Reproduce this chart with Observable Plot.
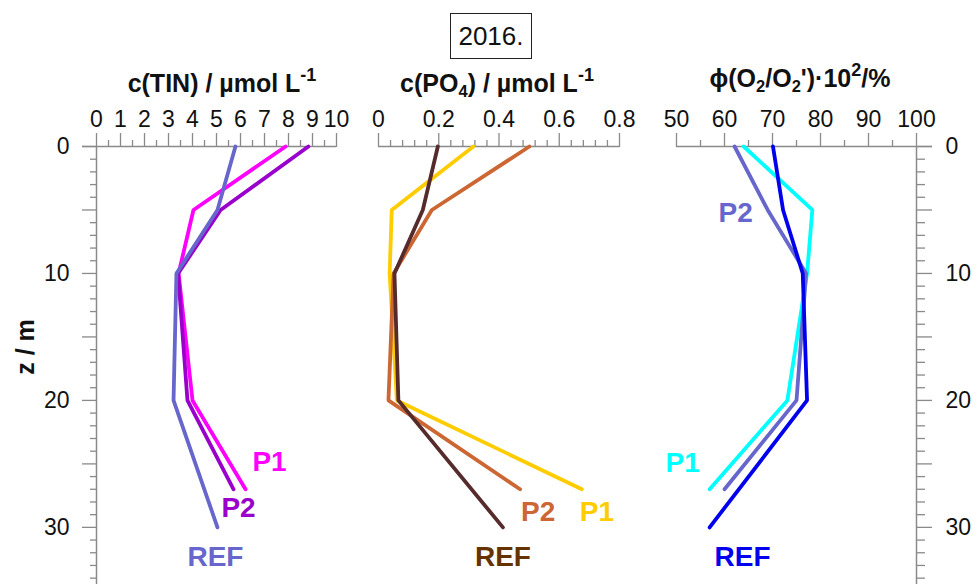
<!DOCTYPE html>
<html>
<head>
<meta charset="utf-8">
<script src="https://cdn.jsdelivr.net/npm/d3@7"></script>
<script src="https://cdn.jsdelivr.net/npm/@observablehq/plot@0.6"></script>
<style>
  html, body { margin: 0; padding: 0; background: #fff; overflow: hidden; }
  body { font-family: "Liberation Sans", Arial, sans-serif; }
  #wrap { position: relative; width: 977px; height: 584px; overflow: hidden; background: #fff; }
  #wrap svg { position: absolute; left: 0; top: 0; }
  .ttl { position: absolute; font-weight: bold; font-size: 25px; white-space: nowrap; line-height: 1; transform: translateX(-50%); color: #111; }
  .ttl sup { font-size: 0.72em; position: relative; top: -0.6em; vertical-align: baseline; }
  .ttl sub { font-size: 0.66em; position: relative; top: 0.3em; vertical-align: baseline; }
  #year { position: absolute; left: 450px; top: 13px; width: 80px; height: 44px; border: 1.5px solid #222; font-size: 26px; line-height: 44px; text-align: center; color: #111; }
  #zlab { position: absolute; left: 25px; top: 347px; transform: translate(-50%, -50%) rotate(-90deg); font-weight: bold; font-size: 25px; white-space: nowrap; color: #111; }
</style>
</head>
<body>
<div id="wrap">
  <div id="year">2016.</div>
  <div class="ttl" style="left:222px; top:71px;">c(TIN) / µmol L<sup>-1</sup></div>
  <div class="ttl" style="left:497px; top:71px;">c(PO<sub>4</sub>) / µmol L<sup>-1</sup></div>
  <div class="ttl" style="left:800px; top:66px;">ϕ(O<sub>2</sub>/O<sub>2</sub>')·10<sup>2</sup>/%</div>
  <div id="zlab">z / m</div>
</div>
<script>
// ---- data ----
const seriesNames = ["P1", "P2", "REF"];
const depthsP = [0, 5, 10, 20, 27];      // P1, P2 sampling depths (m)
const depthsREF = [0, 5, 10, 20, 30];    // REF sampling depths (m)

const tinP1  = [7.88, 4.04, 3.42, 4.00, 6.21];
const tinP2  = [8.83, 5.17, 3.40, 3.79, 5.71];
const tinREF = [5.79, 5.04, 3.33, 3.21, 5.04];

const po4P1  = [0.315, 0.044, 0.037, 0.061, 0.675];
const po4P2  = [0.501, 0.177, 0.050, 0.033, 0.470];
const po4REF = [0.197, 0.147, 0.053, 0.066, 0.413];

const o2P1  = [64.0, 78.3, 77.2, 73.1, 56.9];
const o2P2  = [62.1, 69.0, 77.0, 75.0, 60.0];
const o2REF = [70.1, 72.2, 76.3, 77.2, 56.9];

const tinTicks = [0, 1, 2, 3, 4, 5, 6, 7, 8, 9, 10];
const po4Ticks = [0, 0.2, 0.4, 0.6, 0.8];
const o2Ticks  = [50, 60, 70, 80, 90, 100];
const depthTicks = [0, 10, 20, 30];

// ---- helpers ----
const W = 977, H = 584;
const axisColor = "#8a8a8a";
const font = "'Liberation Sans', Arial, sans-serif";
const yScale = { domain: [0, 34.5], reverse: true };

function rows(vals, depths) { return vals.map((v, i) => ({ v, z: depths[i] })); }

function panel(cfg) {
  const marks = [];
  marks.push(Plot.ruleY([0], { stroke: axisColor, strokeWidth: 1.5, insetLeft: cfg.extLeft || 0, insetRight: cfg.extRight || 0 }));
  marks.push(Plot.axisX({ anchor: "top", ticks: cfg.minor, tickSize: 7, tickFormat: () => "", stroke: axisColor, strokeWidth: 1.3, label: null }));
  marks.push(Plot.axisX({ anchor: "top", ticks: cfg.major, tickSize: 14, tickPadding: 6, tickFormat: cfg.fmt, fontSize: 23, stroke: axisColor, strokeWidth: 1.3, fill: "#111", label: null }));
  if (cfg.yAnchor) {
    const minorDepths = d3.range(0, 35).filter(d => d % 5 !== 0);
    const midDepths = [5, 15, 25];
    marks.push(Plot.ruleX([cfg.yAt], { stroke: axisColor, strokeWidth: 1.5 }));
    marks.push(Plot.axisY({ anchor: cfg.yAnchor, ticks: minorDepths, tickSize: cfg.yMinor, tickFormat: () => "", stroke: axisColor, strokeWidth: 1.3, label: null }));
    marks.push(Plot.axisY({ anchor: cfg.yAnchor, ticks: midDepths, tickSize: cfg.yMajor, tickFormat: () => "", stroke: axisColor, strokeWidth: 1.3, label: null }));
    marks.push(Plot.axisY({ anchor: cfg.yAnchor, ticks: depthTicks, tickSize: cfg.yMajor, tickPadding: cfg.yPad, fontSize: 23, stroke: axisColor, strokeWidth: 1.3, fill: "#111", label: null }));
  } else {
    marks.push(Plot.axisY({ ticks: [], label: null }));
  }
  for (const s of cfg.series) {
    marks.push(Plot.line(s.data, { x: "v", y: "z", stroke: s.color, strokeWidth: 3.8, strokeLinejoin: "miter" }));
  }
  for (const s of cfg.series) {
    const anchor = s.data[s.labelAt];
    marks.push(Plot.text([anchor], { x: "v", y: "z", text: () => s.name, dx: s.dx, dy: s.dy, fill: s.labelColor || s.color, fontSize: 28, fontWeight: "bold", textAnchor: "middle", lineAnchor: "middle" }));
  }
  return Plot.plot({
    width: W, height: H,
    marginTop: 146, marginBottom: 0,
    marginLeft: cfg.ml, marginRight: cfg.mr,
    x: { domain: cfg.domain },
    y: yScale,
    style: { background: "transparent", overflow: "visible", fontFamily: font },
    marks
  });
}

const wrap = document.getElementById("wrap");

// Panel 1: TIN
wrap.appendChild(panel({
  domain: [0, 10], ml: 96, mr: W - 336,
  major: tinTicks, minor: d3.range(0.5, 10, 1), fmt: d => String(d),
  extLeft: -14,
  yAnchor: "left", yAt: 0, yMajor: 14, yMinor: 6, yPad: 13,
  series: [
    { name: "P1", data: rows(tinP1, depthsP), color: "#ff00ff", labelAt: 4, dx: 24, dy: -27 },
    { name: "P2", data: rows(tinP2, depthsP), color: "#9900cc", labelAt: 4, dx: 5, dy: 19 },
    { name: "REF", data: rows(tinREF, depthsREF), color: "#6666cc", labelAt: 4, dx: -2, dy: 30 }
  ]
}));

// Panel 2: PO4
wrap.appendChild(panel({
  domain: [0, 0.8], ml: 378, mr: W - 619,
  major: po4Ticks, minor: d3.range(0, 21).filter(i => i % 5 !== 0).map(i => i * 0.04),
  fmt: d => d === 0 ? "0" : d.toFixed(1),
  series: [
    { name: "P1", data: rows(po4P1, depthsP), color: "#ffcc00", labelAt: 4, dx: 15, dy: 23 },
    { name: "P2", data: rows(po4P2, depthsP), color: "#cc6633", labelAt: 4, dx: 18, dy: 23 },
    { name: "REF", data: rows(po4REF, depthsREF), color: "#552b2b", labelColor: "#663300", labelAt: 4, dx: 0, dy: 30 }
  ]
}));

// Panel 3: O2 saturation
wrap.appendChild(panel({
  domain: [50, 100], ml: 676, mr: W - 916,
  major: o2Ticks, minor: [55, 65, 75, 85, 95], fmt: d => String(d),
  extRight: -16,
  yAnchor: "right", yAt: 100, yMajor: 15, yMinor: 8, yPad: 14,
  series: [
    { name: "P1", data: rows(o2P1, depthsP), color: "#00ffff", labelAt: 4, dx: -27, dy: -26 },
    { name: "P2", data: rows(o2P2, depthsP), color: "#6666cc", labelAt: 1, dx: -32, dy: 3 },
    { name: "REF", data: rows(o2REF, depthsREF), color: "#0000ee", labelAt: 4, dx: 33, dy: 30 }
  ]
}));
</script>
</body>
</html>
